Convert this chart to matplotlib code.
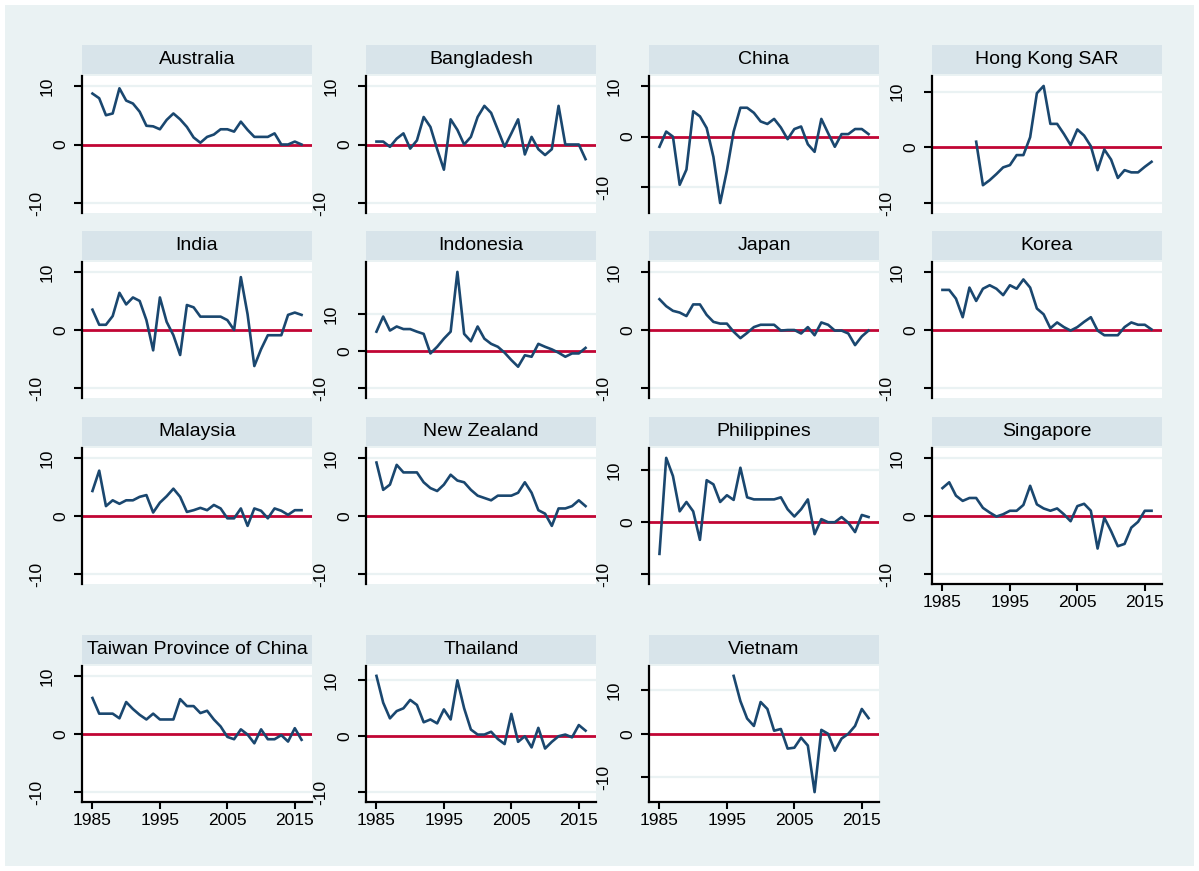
import numpy as np
import matplotlib.pyplot as plt
from matplotlib.patches import Rectangle

plt.rcParams['font.family'] = ['Liberation Sans', 'DejaVu Sans']

# annual values, 1985-2016 unless a start year is given
australia = [8.7, 7.9, 5.0, 5.3, 9.6, 7.5, 7.0, 5.6, 3.2, 3.1, 2.6, 4.2, 5.3, 4.3, 3.0, 1.2,
             0.3, 1.3, 1.7, 2.6, 2.6, 2.2, 3.9, 2.5, 1.3, 1.3, 1.3, 1.9, 0.0, 0.0, 0.5, 0.0]
bangladesh = [0.5, 0.5, -0.4, 1.0, 1.9, -0.7, 0.7, 4.7, 3.0, -0.8, -4.3, 4.3, 2.5, 0.0, 1.3, 4.7,
              6.6, 5.4, 2.5, -0.4, 1.9, 4.3, -1.7, 1.3, -0.8, -1.8, -0.8, 6.6, 0.0, 0.0, 0.0, -2.5]
china = [-2.0, 1.0, 0.0, -9.5, -6.5, 5.0, 4.0, 1.7, -4.0, -13.1, -6.7, 1.0, 5.7, 5.7, 4.7, 3.0,
         2.5, 3.5, 1.8, -0.5, 1.5, 2.0, -1.5, -3.0, 3.5, 0.7, -2.0, 0.5, 0.5, 1.5, 1.5, 0.5]
hong_kong = [1.0, -6.8, -5.9, -4.8, -3.6, -3.2, -1.4, -1.4, 1.8, 9.7, 11.0, 4.2, 4.2, 2.4,
             0.4, 3.2, 2.1, 0.2, -4.1, -0.4, -2.2, -5.5, -4.1, -4.5, -4.5, -3.5, -2.6]
hong_kong_start = 1990
india = [3.5, 0.9, 0.9, 2.4, 6.4, 4.4, 5.6, 5.0, 1.7, -3.5, 5.6, 1.4, -0.9, -4.3, 4.3, 3.9,
         2.3, 2.3, 2.3, 2.3, 1.7, 0.0, 9.1, 2.7, -6.2, -3.3, -0.9, -0.9, -0.9, 2.6, 3.0, 2.6]
indonesia = [5.3, 9.4, 5.6, 6.7, 6.0, 6.0, 5.3, 4.7, -0.6, 1.2, 3.4, 5.3, 21.5, 4.7, 2.7, 6.7,
             3.4, 2.0, 1.2, -0.4, -2.4, -4.2, -1.1, -1.5, 2.0, 1.2, 0.5, -0.4, -1.5, -0.6, -0.6, 0.9]
japan = [5.3, 4.1, 3.3, 3.0, 2.4, 4.4, 4.4, 2.6, 1.4, 1.1, 1.1, -0.3, -1.4, -0.5, 0.5, 0.9,
         0.9, 0.9, -0.1, 0.0, 0.0, -0.6, 0.5, -0.9, 1.3, 0.9, -0.1, -0.1, -0.6, -2.6, -1.1, -0.1]
korea = [6.9, 6.9, 5.4, 2.2, 7.3, 5.0, 7.1, 7.7, 7.1, 6.0, 7.7, 7.1, 8.7, 7.3, 3.7, 2.7,
         0.3, 1.3, 0.5, -0.1, 0.5, 1.4, 2.2, -0.1, -0.9, -0.9, -0.9, 0.5, 1.3, 0.9, 0.9, 0.1]
malaysia = [4.3, 7.8, 1.7, 2.7, 2.1, 2.7, 2.7, 3.3, 3.6, 0.6, 2.3, 3.4, 4.7, 3.3, 0.7, 1.0,
            1.4, 1.0, 1.9, 1.3, -0.4, -0.4, 1.3, -1.7, 1.3, 0.9, -0.4, 1.3, 0.9, 0.2, 1.0, 1.0]
new_zealand = [9.2, 4.5, 5.4, 8.8, 7.5, 7.5, 7.5, 5.8, 4.8, 4.3, 5.4, 7.1, 6.1, 5.8, 4.5, 3.5,
               3.1, 2.7, 3.5, 3.5, 3.5, 4.0, 5.8, 4.0, 1.0, 0.4, -1.7, 1.3, 1.3, 1.7, 2.7, 1.7]
philippines = [-6.1, 12.4, 8.9, 2.1, 3.9, 2.1, -3.4, 8.1, 7.3, 3.9, 5.2, 4.3, 10.5, 4.8, 4.4, 4.4,
               4.4, 4.4, 4.8, 2.5, 1.1, 2.5, 4.4, -2.3, 0.6, 0.0, 0.0, 1.0, -0.1, -1.9, 1.4, 1.0]
singapore = [4.8, 5.8, 3.5, 2.6, 3.1, 3.1, 1.4, 0.6, -0.1, 0.3, 0.9, 0.9, 1.9, 5.2, 2.0, 1.3,
             0.9, 1.3, 0.3, -0.9, 1.7, 2.1, 0.9, -5.6, -0.3, -2.6, -5.2, -4.8, -2.0, -1.0, 0.9, 0.9]
taiwan = [6.2, 3.5, 3.5, 3.5, 2.7, 5.5, 4.3, 3.3, 2.5, 3.5, 2.5, 2.5, 2.5, 6.0, 4.8, 4.8,
          3.6, 4.0, 2.5, 1.3, -0.5, -0.9, 0.8, -0.1, -1.6, 0.8, -0.9, -0.9, -0.2, -1.3, 1.0, -1.0]
thailand = [10.8, 6.0, 3.2, 4.5, 5.0, 6.5, 5.6, 2.5, 3.0, 2.3, 4.8, 3.0, 10.0, 5.0, 1.2, 0.3,
            0.3, 0.8, -0.5, -1.4, 4.0, -1.0, 0.0, -2.0, 1.5, -2.2, -1.0, 0.0, 0.3, -0.2, 2.0, 1.0]
vietnam = [13.3, 7.5, 3.5, 1.8, 7.3, 5.7, 0.7, 1.1, -3.4, -3.2, -0.9, -2.7, -13.4, 0.9, 0.0,
           -3.9, -1.1, 0.0, 1.8, 5.7, 3.6]
vietnam_start = 1996

names = ['Australia', 'Bangladesh', 'China', 'Hong Kong SAR', 'India', 'Indonesia', 'Japan',
         'Korea', 'Malaysia', 'New Zealand', 'Philippines', 'Singapore',
         'Taiwan Province of China', 'Thailand', 'Vietnam']
values = [australia, bangladesh, china, hong_kong, india, indonesia, japan, korea, malaysia,
          new_zealand, philippines, singapore, taiwan, thailand, vietnam]
starts = [1985] * 15
starts[3] = hong_kong_start
starts[14] = vietnam_start

xticks = [1985, 1995, 2005, 2015]
yticks = [-10, 0, 10]

bg = '#eaf2f3'
strip_col = '#d8e4ea'
navy = '#1a476f'
red = '#c10534'

W, H = 1199, 871
fig = plt.figure(figsize=(W / 100, H / 100), dpi=100)
fig.patch.set_facecolor('white')
fig.patches.append(Rectangle((5 / W, 5 / H), 1 - 10 / W, 1 - 10 / H, transform=fig.transFigure,
                             facecolor=bg, edgecolor='none', zorder=-10))

col_left = [82, 366, 649, 932]
col_w = 230
rows = [(45, 76, 213), (231, 262, 398), (417, 448, 584), (635, 666, 802)]
bottom_panels = ['Singapore', 'Taiwan Province of China', 'Thailand', 'Vietnam']

# offset of the rotated y labels from the axis line, in pixels
ylab_off = {'-10': 45, '0': 21, '10': 35}

for i, (name, v, s) in enumerate(zip(names, values, starts)):
    r, c = divmod(i, 4)
    st, top, bot = rows[r]
    x0 = col_left[c]

    sax = fig.add_axes([x0 / W, 1 - (st + 29) / H, col_w / W, 29 / H])
    sax.set_facecolor(strip_col)
    sax.set_xticks([])
    sax.set_yticks([])
    for sp in sax.spines.values():
        sp.set_visible(False)
    sax.text(0.5, 0.5, name, ha='center', va='center', fontsize=14, transform=sax.transAxes)

    ax = fig.add_axes([x0 / W, 1 - bot / H, col_w / W, (bot - top) / H])
    ax.set_facecolor('white')
    yrs = np.arange(s, s + len(v))
    lo = min(-10, min(v))
    hi = max(10, max(v))
    pad = 0.085 * (hi - lo)
    ax.set_ylim(lo - pad, hi + pad)
    ax.set_xlim(1983.45, 2017.55)

    for t in (-10, 10):
        ax.axhline(t, color=bg, lw=1.6, zorder=1)
    ax.axhline(0, color=red, lw=2.0, zorder=2)
    ax.plot(yrs, v, color=navy, lw=1.9, zorder=3)

    for sp in ['top', 'right']:
        ax.spines[sp].set_visible(False)
    ax.spines['left'].set_linewidth(1.6)
    ax.set_yticks(yticks)
    ax.tick_params(axis='y', length=6, width=1.5, labelleft=False)
    for t in yticks:
        lab = str(t)
        ax.annotate(lab, xy=(0, t), xycoords=ax.get_yaxis_transform(),
                    xytext=(-ylab_off[lab], 0), textcoords='offset pixels',
                    rotation=90, ha='center', va='center', fontsize=12.5,
                    annotation_clip=False)

    ax.set_xticks(xticks)
    if name in bottom_panels:
        ax.spines['bottom'].set_linewidth(1.6)
        ax.tick_params(axis='x', length=5, width=1.5, labelsize=12.5, pad=3)
    else:
        ax.spines['bottom'].set_visible(False)
        ax.tick_params(axis='x', length=0, labelbottom=False)

plt.savefig('out.png', dpi=100, facecolor=fig.get_facecolor())
